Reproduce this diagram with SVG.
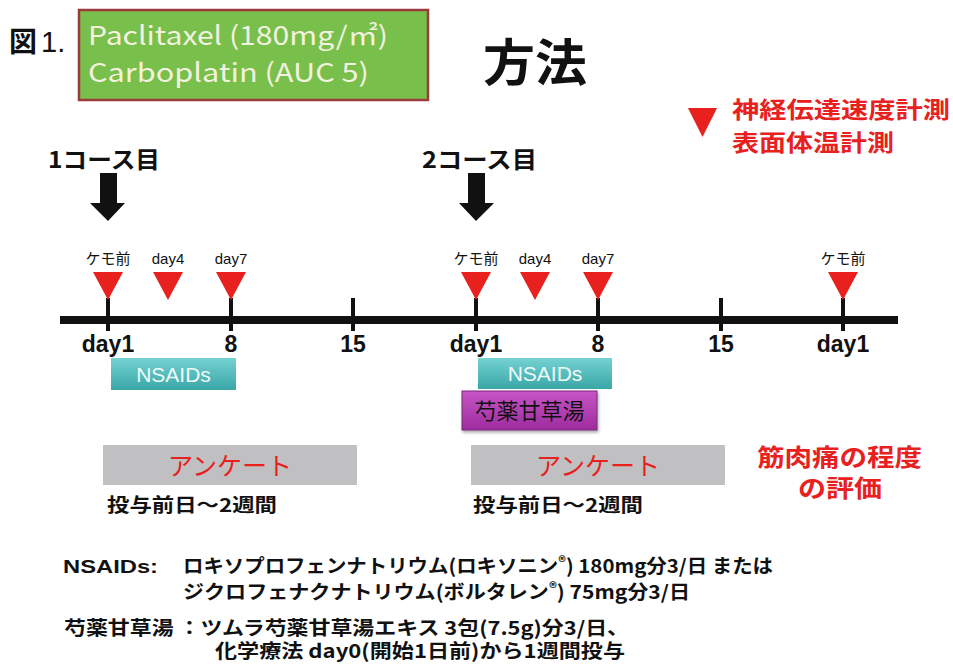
<svg xmlns="http://www.w3.org/2000/svg" width="953" height="664" viewBox="0 0 953 664">
<defs>
  <linearGradient id="gTeal" x1="0" y1="0" x2="0" y2="1">
    <stop offset="0" stop-color="#74d2d2"/>
    <stop offset="1" stop-color="#3aa6a6"/>
  </linearGradient>
  <linearGradient id="gMag" x1="0" y1="0" x2="0" y2="1">
    <stop offset="0" stop-color="#c655c6"/>
    <stop offset="1" stop-color="#9e2c9e"/>
  </linearGradient>
  <filter id="sh" x="-10%" y="-20%" width="130%" height="160%">
    <feDropShadow dx="1" dy="2" stdDeviation="1.5" flood-color="#000" flood-opacity="0.35"/>
  </filter>
  <path id="tri" d="M-15,0 L15,0 L0,28 Z" fill="#e8201e"/>
</defs>
<style>
  .jp { font-family: "Noto Sans CJK JP", "Liberation Sans", sans-serif; }
  .lat { font-family: "Liberation Sans", "Noto Sans CJK JP", sans-serif; }
  .b { font-weight: bold; }
  .red { fill: #e8201e; }
  .blk { fill: #111; }
  .small { font-size: 15px; }
  .tick { stroke: #111; stroke-width: 4; }
  .daylbl { font-family: "Liberation Sans", sans-serif; font-weight: bold; font-size: 23px; fill: #111; text-anchor: middle; }
  .note { font-family: "Noto Sans CJK JP", "Liberation Sans", sans-serif; font-weight: bold; font-size: 19px; fill: #111; }
</style>
<rect width="953" height="664" fill="#ffffff"/>

<g id="fig-label">
  <text x="9" y="52" class="jp b blk" font-size="28">図</text>
  <text x="41" y="52" class="lat blk" font-size="29">1.</text>
</g>

<g id="regimen">
  <rect x="79" y="10" width="349" height="90" fill="#78bf4c" stroke="#9a3a3a" stroke-width="2.5"/>
  <text x="88" y="45" class="jp" font-size="26" fill="#f3f1df" textLength="300" lengthAdjust="spacingAndGlyphs">Paclitaxel (180mg/㎡)</text>
  <text x="88" y="82" class="jp" font-size="26" fill="#f3f1df" textLength="281" lengthAdjust="spacingAndGlyphs">Carboplatin (AUC 5)</text>
</g>

<g id="title">
  <text x="483" y="81" class="jp b blk" font-size="50" textLength="104" lengthAdjust="spacingAndGlyphs">方法</text>
</g>

<g id="legend">
  <use href="#tri" transform="translate(702.5,108) scale(0.97,1.04)"/>
  <text x="732" y="118" class="jp b red" font-size="23" textLength="218" lengthAdjust="spacingAndGlyphs">神経伝達速度計測</text>
  <text x="732" y="151" class="jp b red" font-size="23" textLength="162" lengthAdjust="spacingAndGlyphs">表面体温計測</text>
</g>

<g id="course1">
  <text x="48" y="168" class="jp b blk" font-size="23" textLength="112" lengthAdjust="spacingAndGlyphs">1コース目</text>
</g>
<g id="course2">
  <text x="422" y="168" class="jp b blk" font-size="23" textLength="115" lengthAdjust="spacingAndGlyphs">2コース目</text>
</g>

<g id="connectors">
  <path d="M100,173 H117 V203 H125 L108,221 L90,203 H100 Z" fill="#111"/>
  <path d="M468,173 H485 V203 H494 L476,221 L459,203 H468 Z" fill="#111"/>
  <line x1="60" y1="320" x2="898" y2="320" stroke="#111" stroke-width="8"/>
  <line class="tick" x1="108" y1="298" x2="108" y2="331"/>
  <line class="tick" x1="231" y1="298" x2="231" y2="331"/>
  <line class="tick" x1="353" y1="298" x2="353" y2="331"/>
  <line class="tick" x1="476" y1="298" x2="476" y2="331"/>
  <line class="tick" x1="598" y1="298" x2="598" y2="331"/>
  <line class="tick" x1="721" y1="298" x2="721" y2="331"/>
  <line class="tick" x1="843" y1="298" x2="843" y2="331"/>
</g>

<g id="marks">
  <use href="#tri" x="108" y="272"/>
  <use href="#tri" x="168" y="272"/>
  <use href="#tri" x="231" y="272"/>
  <use href="#tri" x="476" y="272"/>
  <use href="#tri" x="535" y="272"/>
  <use href="#tri" x="598" y="272"/>
  <use href="#tri" x="843" y="272"/>
  <text x="108" y="264" class="jp small blk" text-anchor="middle">ケモ前</text>
  <text x="168" y="264" class="lat small blk" text-anchor="middle">day4</text>
  <text x="231" y="264" class="lat small blk" text-anchor="middle">day7</text>
  <text x="476" y="264" class="jp small blk" text-anchor="middle">ケモ前</text>
  <text x="535" y="264" class="lat small blk" text-anchor="middle">day4</text>
  <text x="598" y="264" class="lat small blk" text-anchor="middle">day7</text>
  <text x="843" y="264" class="jp small blk" text-anchor="middle">ケモ前</text>
</g>

<g id="day-labels">
  <text x="108" y="352" class="daylbl">day1</text>
  <text x="231" y="352" class="daylbl">8</text>
  <text x="353" y="352" class="daylbl">15</text>
  <text x="476" y="352" class="daylbl">day1</text>
  <text x="598" y="352" class="daylbl">8</text>
  <text x="721" y="352" class="daylbl">15</text>
  <text x="843" y="352" class="daylbl">day1</text>
</g>

<g id="nsaids1">
  <rect x="111" y="358" width="125" height="32" fill="url(#gTeal)"/>
  <text x="173.5" y="382" class="lat" font-size="21" fill="#eefafa" text-anchor="middle">NSAIDs</text>
</g>
<g id="nsaids2">
  <rect x="478" y="358" width="134" height="31" fill="url(#gTeal)"/>
  <text x="545" y="381" class="lat" font-size="21" fill="#eefafa" text-anchor="middle">NSAIDs</text>
</g>
<g id="kampo">
  <rect x="462" y="391" width="135" height="39" fill="url(#gMag)" stroke="#7a287a" stroke-width="1" filter="url(#sh)"/>
  <text x="529.5" y="419" class="jp blk" font-size="22" text-anchor="middle">芍薬甘草湯</text>
</g>

<g id="survey1">
  <rect x="103" y="445" width="254" height="40" fill="#c0c0c2"/>
  <text x="230" y="475" class="jp red" font-size="25" text-anchor="middle">アンケート</text>
  <text x="107" y="512" class="jp b blk" font-size="19" textLength="170" lengthAdjust="spacingAndGlyphs">投与前日～2週間</text>
</g>
<g id="survey2">
  <rect x="471" y="445" width="254" height="40" fill="#c0c0c2"/>
  <text x="598" y="475" class="jp red" font-size="25" text-anchor="middle">アンケート</text>
  <text x="473" y="512" class="jp b blk" font-size="19" textLength="170" lengthAdjust="spacingAndGlyphs">投与前日～2週間</text>
</g>

<g id="pain-eval">
  <text x="757" y="466" class="jp b red" font-size="24" textLength="165" lengthAdjust="spacingAndGlyphs">筋肉痛の程度</text>
  <text x="798" y="497" class="jp b red" font-size="24" textLength="84" lengthAdjust="spacingAndGlyphs">の評価</text>
</g>

<g id="notes">
  <text x="63" y="573" class="lat b" font-size="18" fill="#111" textLength="95" lengthAdjust="spacingAndGlyphs">NSAIDs:</text>
  <text x="183" y="573" class="note" textLength="590" lengthAdjust="spacingAndGlyphs">ロキソプロフェンナトリウム(ロキソニン<tspan font-size="14" dy="-6">®</tspan><tspan dy="6">) 180mg分3/日 または</tspan></text>
  <text x="183" y="599" class="note" textLength="507" lengthAdjust="spacingAndGlyphs">ジクロフェナクナトリウム(ボルタレン<tspan font-size="14" dy="-6">®</tspan><tspan dy="6">) 75mg分3/日</tspan></text>
  <text x="64" y="635" class="note" textLength="565" lengthAdjust="spacingAndGlyphs">芍薬甘草湯 ：ツムラ芍薬甘草湯エキス 3包(7.5g)分3/日、</text>
  <text x="215" y="658" class="note" textLength="410" lengthAdjust="spacingAndGlyphs">化学療法 day0(開始1日前)から1週間投与</text>
</g>
</svg>
